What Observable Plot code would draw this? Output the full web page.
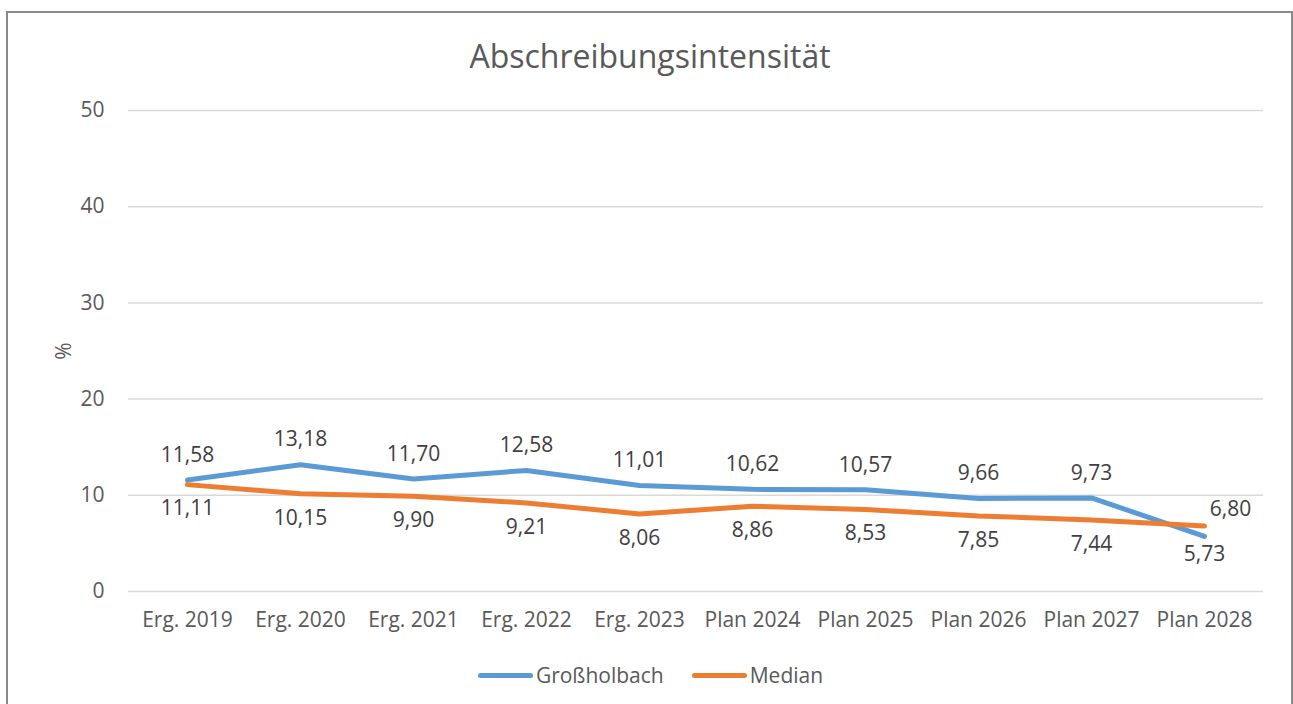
<!DOCTYPE html>
<html>
<head>
<meta charset="utf-8">
<script src="https://cdn.jsdelivr.net/npm/d3@7"></script>
<script src="https://cdn.jsdelivr.net/npm/@observablehq/plot@0.6"></script>
<style>
  html, body { margin: 0; padding: 0; background: #fff; }
  #wrap { position: relative; width: 1293px; height: 704px; overflow: hidden; font-family: "Open Sans", sans-serif; color: #595959; }
  #frame { position: absolute; left: 6px; top: 11px; width: 1287px; height: 720px; border: 2px solid #8a8a8a; box-sizing: border-box; }
  #title { position: absolute; left: 0; width: 1300px; top: 34px; text-align: center; font-size: 32px; line-height: 44px; color: #595959; }
  #chart { position: absolute; left: 0; top: 0; }
  #legend { position: absolute; left: 0; width: 1293px; top: 660px; display: flex; justify-content: center; align-items: center; font-size: 21px; line-height: 30px; padding-left: 8px; box-sizing: border-box; }
  .item { display: flex; align-items: center; margin: 0 14px; }
  .swatch { width: 55px; height: 5px; border-radius: 3px; margin-right: 3px; }
</style>
</head>
<body>
<div id="wrap">
  <div id="frame"></div>
  <div id="title">Abschreibungsintensität</div>
  <div id="chart"></div>
  <div id="legend"></div>
</div>
<script>
const categories = ["Erg. 2019", "Erg. 2020", "Erg. 2021", "Erg. 2022", "Erg. 2023", "Plan 2024", "Plan 2025", "Plan 2026", "Plan 2027", "Plan 2028"];
const grossholbach = [11.58, 13.18, 11.70, 12.58, 11.01, 10.62, 10.57, 9.66, 9.73, 5.73];
const median = [11.11, 10.15, 9.90, 9.21, 8.06, 8.86, 8.53, 7.85, 7.44, 6.80];
const seriesNames = ["Großholbach", "Median"];
const seriesColors = ["#5b9bd5", "#ed7d31"];
const yTicks = [0, 10, 20, 30, 40, 50];

const fmt = v => d3.format(".2f")(v).replace(".", ",");
const rows = (vals, name) => vals.map((v, i) => ({cat: categories[i], value: v, series: name, i}));
const gData = rows(grossholbach, seriesNames[0]);
const mData = rows(median, seriesNames[1]);
const last = categories.length - 1;

const textStyle = {fill: "#404040", fontSize: 21, fontFamily: "Open Sans, sans-serif"};

const plot = Plot.plot({
  width: 1293,
  height: 704,
  marginLeft: 128,
  marginRight: 30,
  marginTop: 110,
  marginBottom: 113,
  style: {fontFamily: "Open Sans, sans-serif", fontSize: "21px", color: "#595959", background: "transparent"},
  x: {type: "point", domain: categories, padding: 0.5},
  y: {domain: [0, 50]},
  marks: [
    Plot.gridY(yTicks, {stroke: "#d9d9d9", strokeOpacity: 1, strokeWidth: 1.5}),
    Plot.axisY(yTicks, {tickSize: 0, tickPadding: 24, label: "%", labelAnchor: "center", labelOffset: 72, labelArrow: "none", fill: "#595959", fontSize: 21}),
    Plot.axisX({tickSize: 0, tickPadding: 21, label: null, fill: "#595959", fontSize: 21}),
    Plot.lineY(gData, {x: "cat", y: "value", stroke: seriesColors[0], strokeWidth: 5, strokeLinecap: "round", strokeLinejoin: "round"}),
    Plot.lineY(mData, {x: "cat", y: "value", stroke: seriesColors[1], strokeWidth: 5, strokeLinecap: "round", strokeLinejoin: "round"}),
    Plot.text(gData.filter(d => d.i !== last), {x: "cat", y: "value", text: d => fmt(d.value), dy: -25, ...textStyle}),
    Plot.text(gData.filter(d => d.i === last), {x: "cat", y: "value", text: d => fmt(d.value), dy: 18, ...textStyle}),
    Plot.text(mData.filter(d => d.i !== last), {x: "cat", y: "value", text: d => fmt(d.value), dy: 24, ...textStyle}),
    Plot.text(mData.filter(d => d.i === last), {x: "cat", y: "value", text: d => fmt(d.value), dx: 26, dy: -17, ...textStyle})
  ]
});
document.getElementById("chart").appendChild(plot);

const legend = document.getElementById("legend");
seriesNames.forEach((name, k) => {
  const item = document.createElement("div");
  item.className = "item";
  const sw = document.createElement("div");
  sw.className = "swatch";
  sw.style.background = seriesColors[k];
  const lab = document.createElement("span");
  lab.textContent = name;
  item.appendChild(sw);
  item.appendChild(lab);
  legend.appendChild(item);
});
</script>
</body>
</html>
